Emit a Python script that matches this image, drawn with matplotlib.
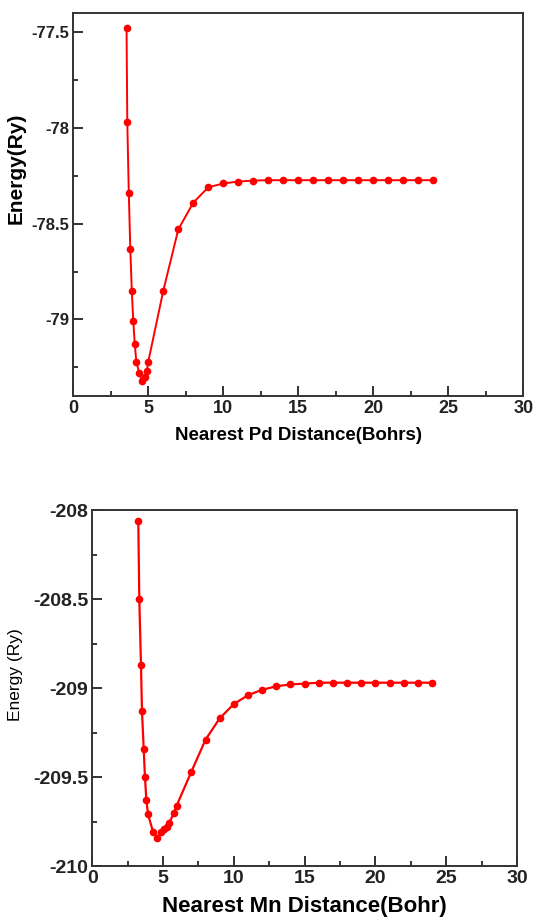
import matplotlib
matplotlib.use("Agg")
import matplotlib.pyplot as plt
from matplotlib.ticker import MultipleLocator

# ---- data -------------------------------------------------------------------
pd_dist = [3.55, 3.6, 3.7, 3.8, 3.9, 4.0, 4.1, 4.2, 4.4, 4.55, 4.75, 4.9, 5.0,
           6, 7, 8, 9, 10, 11, 12, 13, 14, 15, 16, 17, 18, 19, 20, 21, 22, 23, 24]
pd_energy = [-77.48, -77.97, -78.34, -78.63, -78.85, -79.01, -79.13, -79.22, -79.28,
             -79.32, -79.30, -79.27, -79.22, -78.85, -78.53, -78.39, -78.31, -78.29,
             -78.28, -78.275, -78.273, -78.273, -78.273, -78.273, -78.273, -78.273,
             -78.273, -78.273, -78.273, -78.273, -78.273, -78.273]

mn_dist = [3.25, 3.32, 3.44, 3.51, 3.63, 3.72, 3.82, 3.94, 4.3, 4.55, 4.86, 5.09,
           5.26, 5.42, 5.77, 5.96, 7, 8, 9, 10, 11, 12, 13, 14, 15, 16, 17, 18, 19,
           20, 21, 22, 23, 24]
mn_energy = [-208.06, -208.50, -208.87, -209.13, -209.34, -209.50, -209.63, -209.71,
             -209.81, -209.84, -209.81, -209.79, -209.78, -209.76, -209.70, -209.66,
             -209.47, -209.29, -209.17, -209.09, -209.04, -209.01, -208.99, -208.98,
             -208.975, -208.97, -208.97, -208.97, -208.97, -208.97, -208.97, -208.97,
             -208.97, -208.97]

xticks = [0, 5, 10, 15, 20, 25, 30]

plt.rcParams["font.family"] = ["Liberation Sans", "DejaVu Sans"]

fig = plt.figure(figsize=(5.35, 9.18), dpi=100)
ax1 = fig.add_axes([0.137, 0.5686, 0.8411, 0.4172])
ax2 = fig.add_axes([0.1725, 0.0566, 0.7938, 0.3878])


def style(ax, xsize, ysize):
    for s in ax.spines.values():
        s.set_linewidth(1.4)
        s.set_color("#333333")
    ax.set_xlim(0, 30)
    ax.set_xticks(xticks)
    ax.xaxis.set_minor_locator(MultipleLocator(2.5))
    ax.yaxis.set_minor_locator(MultipleLocator(0.25))
    ax.tick_params(which="major", direction="in", length=7, width=1.3, pad=3,
                   colors="#222222")
    ax.tick_params(which="minor", direction="in", length=3.5, width=1.1)
    for lab in ax.get_xticklabels():
        lab.set_fontweight("bold")
        lab.set_fontsize(xsize)
    for lab in ax.get_yticklabels():
        lab.set_fontweight("bold")
        lab.set_fontsize(ysize)


ax1.plot(pd_dist, pd_energy, color="red", lw=1.4, marker="o", ms=4.5)
ax1.set_ylim(-79.4, -77.4)
ax1.set_yticks([-79, -78.5, -78, -77.5])
ax1.set_yticklabels(["-79", "-78.5", "-78", "-77.5"])
style(ax1, 13, 12)
ax1.set_xlabel("Nearest Pd Distance(Bohrs)", fontsize=13.5, fontweight="bold")
ax1.set_ylabel("Energy(Ry)", fontsize=15, fontweight="bold")
ax1.xaxis.set_label_coords(0.50, -0.082)
ax1.yaxis.set_label_coords(-0.105, 0.595)

ax2.plot(mn_dist, mn_energy, color="red", lw=1.6, marker="o", ms=4.5)
ax2.set_ylim(-210, -208)
ax2.set_yticks([-210, -209.5, -209, -208.5, -208])
ax2.set_yticklabels(["-210", "-209.5", "-209", "-208.5", "-208"])
style(ax2, 14, 14)
ax2.set_xlabel("Nearest Mn Distance(Bohr)", fontsize=16, fontweight="bold")
ax2.set_ylabel("Energy (Ry)", fontsize=12.5)
ax2.xaxis.set_label_coords(0.50, -0.085)
ax2.yaxis.set_label_coords(-0.163, 0.539)

fig.savefig("out.png", dpi=100)
